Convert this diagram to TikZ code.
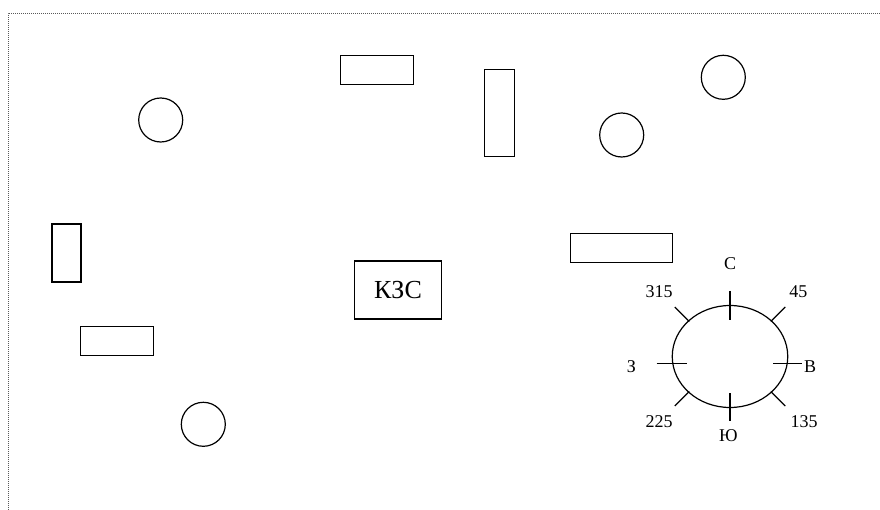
\documentclass[tikz,border=0pt]{standalone}
\usepackage{fontspec}
\setmainfont{Liberation Serif}
\usetikzlibrary{calc,shapes.geometric}
\tikzset{
  obj/.style    = {draw, line width=1.2pt, inner sep=0pt},
  blk/.style    = {obj, rectangle},
  ring/.style   = {obj, circle, minimum size=44pt},
  tick/.style   = {line width=1.2pt},
  lbl/.style    = {inner sep=0pt, anchor=base, font=\fontsize{18}{18}\selectfont},
  frame/.style  = {line width=0.6pt, gray!70!black, dash pattern=on 1pt off 1pt},
}
\begin{document}
\begin{tikzpicture}[x=1pt,y=-1pt]
  \useasboundingbox (0,0) rectangle (880,510);
  \coordinate (fbl) at (8,510);
  \coordinate (ftl) at (8,13);
  \coordinate (ftr) at (880,13);
  \draw[frame] (fbl) -- (ftl) -- (ftr);

  \node[blk, minimum width=29pt, minimum height=58pt] (r1) at (66.5,253) {};
  \node[blk, minimum width=73pt, minimum height=29pt] (r2) at (117,341) {};
  \node[blk, minimum width=73pt, minimum height=29pt] (r3) at (377,70) {};
  \node[blk, minimum width=30pt, minimum height=87pt] (r4) at (499.3,113.3) {};
  \node[blk, minimum width=102pt, minimum height=29pt] (r5) at (621.5,248.3) {};
  \node[ring] (c1) at (160.7,120) {};
  \node[ring] (c2) at (203.3,424.3) {};
  \node[ring] (c3) at (621.7,135) {};
  \node[ring] (c4) at (723.3,77.3) {};
  \node[blk, minimum width=87pt, minimum height=58pt,
        font=\fontsize{26}{26}\selectfont] (kzs) at (398,290) {КЗС};

  % compass
  \node[obj, ellipse, minimum width=115.5pt, minimum height=102pt] (cmp) at (730,356.5) {};
  \draw[tick] ($(cmp.north)+(0,-14)$) -- ($(cmp.north)+(0,15)$);
  \draw[tick] ($(cmp.south)+(0,-15)$) -- ($(cmp.south)+(0,13)$);
  \draw[tick] ($(cmp.west)+(-15,7)$) -- ($(cmp.west)+(15,7)$);
  \draw[tick] ($(cmp.east)+(-15,7)$) -- ($(cmp.east)+(14,7)$);
  \draw[tick] ($(cmp.north east)+(-0.5,1.5)$) -- ($(cmp.north east)+(14,-13)$);
  \draw[tick] ($(cmp.north west)+(0.5,1.5)$) -- ($(cmp.north west)+(-14,-13)$);
  \draw[tick] ($(cmp.south east)+(-0.5,-1.5)$) -- ($(cmp.south east)+(14,13)$);
  \draw[tick] ($(cmp.south west)+(0.5,-1.5)$) -- ($(cmp.south west)+(-14,13)$);

  \node[lbl] (ln) at (730,270) {С};
  \node[lbl] (lnw) at (659,298) {315};
  \node[lbl] (lne) at (798.3,298) {45};
  \node[lbl] (lw) at (631.3,372) {З};
  \node[lbl] (le) at (810,372) {В};
  \node[lbl] (lsw) at (659,427) {225};
  \node[lbl] (lse) at (804.2,427) {135};
  \node[lbl] (ls) at (728.3,441) {Ю};
\end{tikzpicture}
\end{document}
